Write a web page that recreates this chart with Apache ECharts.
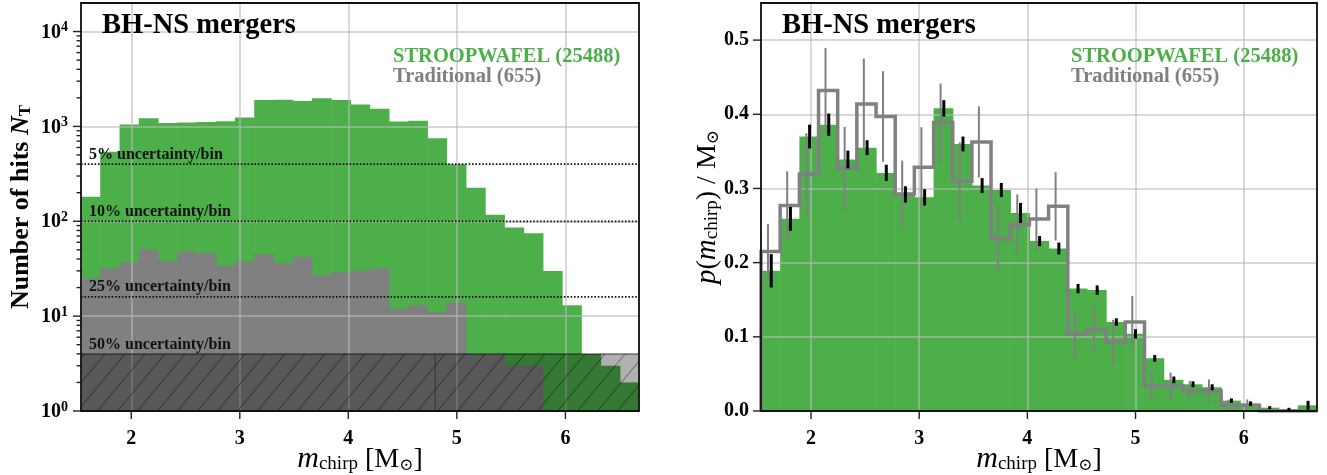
<!DOCTYPE html>
<html>
<head>
<meta charset="utf-8">
<script src="https://cdn.jsdelivr.net/npm/echarts@6/dist/echarts.min.js"></script>
<style>
html,body{margin:0;padding:0;background:#fff;}
#c{width:1327px;height:475px;}
</style>
</head>
<body>
<div id="c"></div>
<script>
// ---------------- data ----------------
const binEdges = [1.537,1.714,1.892,2.069,2.246,2.423,2.601,2.778,2.955,3.133,3.310,3.487,3.664,3.842,4.019,4.196,4.374,4.551,4.728,4.905,5.083,5.260,5.437,5.614,5.792,5.969,6.146,6.324,6.501,6.678];
const xTicks = [2,3,4,5,6];
const xTickLabels = ['2','3','4','5','6'];
const countTicks = [1,10,100,1000,10000];
const countTickExponents = ['0','1','2','3','4'];
const densityTicks = [0,0.1,0.2,0.3,0.4,0.5];
const densityTickLabels = ['0.0','0.1','0.2','0.3','0.4','0.5'];

// left panel: number of hits per bin
const stroopCounts = [181,540,1050,1220,1085,1100,1110,1135,1239,1895,1910,1850,1985,1895,1700,1535,1125,1145,750,399,225,117,86,75,30,13,4,3,2];
const tradCounts   = [25,32,37,50,38,48,46,34,38,45,36,42,27,29,30,32,12,13,11,14,4,4,3,3,1,1,0,0,0];

// right panel: normalised distributions
const stroopDensity    = [0.189,0.259,0.370,0.386,0.339,0.355,0.321,0.292,0.288,0.408,0.360,0.304,0.298,0.267,0.229,0.219,0.165,0.163,0.120,0.104,0.071,0.042,0.036,0.032,0.014,0.010,0.0045,0.0023,0.0077];
const stroopDensityErr = [0.0225,0.016,0.016,0.015,0.012,0.010,0.011,0.011,0.011,0.011,0.010,0.010,0.0095,0.0135,0.0068,0.008,0.0063,0.0063,0.005,0.0063,0.0045,0.0045,0.004,0.004,0.003,0.003,0.002,0.002,0.006];
const tradDensity      = [0.215,0.277,0.3195,0.432,0.327,0.414,0.397,0.2925,0.3285,0.389,0.3096,0.3627,0.2318,0.251,0.2588,0.2759,0.1035,0.110,0.093,0.120,0.0338,0.0338,0.027,0.027,0.0077,0.0077,0,0,0];
const tradDensityErr   = [0.037,0.046,0.055,0.0575,0.056,0.061,0.061,0.045,0.054,0.0525,0.0525,0.048,0.044,0.041,0.041,0.046,0.031,0.0286,0.03,0.035,0.018,0.018,0.0135,0.0155,0.0075,0.008,0,0,0];

const uncertaintyCounts = [400,100,16,4];
const uncertaintyLabels = ['5% uncertainty/bin','10% uncertainty/bin','25% uncertainty/bin','50% uncertainty/bin'];
const hatchSeamX = 4.8;

const titleText = 'BH-NS mergers';
const legendLabels = ['STROOPWAFEL (25488)','Traditional (655)'];

// ---------------- setup ----------------
const X_MIN = binEdges[0], X_MAX = binEdges[binEdges.length-1];
const COUNT_MIN = 1, COUNT_MAX = 20000;
const DENS_MIN = 0, DENS_MAX = 0.55;
const FONT = '"Liberation Serif", "DejaVu Serif", serif';
const GREEN = '#4daf4a', GREY = '#808080';
const GRID_C = 'rgba(185,185,185,0.75)';
const G1 = {left:81, top:3, width:558, height:408};
const G2 = {left:761, top:3, width:556, height:408};

const hatchCanvas = (function(){
  const w = 20, h = 24;
  const c = document.createElement('canvas'); c.width = w; c.height = h;
  const g = c.getContext('2d');
  g.fillStyle = 'rgba(0,0,0,0.31)'; g.fillRect(0,0,w,h);
  g.strokeStyle = 'rgba(0,0,0,0.45)'; g.lineWidth = 1;
  g.beginPath();
  for (const o of [-w,0,w]) { g.moveTo(o,h); g.lineTo(o+w,0); }
  g.stroke();
  return c;
})();

function idxOf(arr, v){
  for (let i=0;i<arr.length;i++){
    const t = arr[i];
    if (Math.abs(t - v) <= 1e-6 * Math.max(1, Math.abs(t))) return i;
  }
  return -1;
}

const axisNameRichX = {
  m:{fontFamily:FONT, fontStyle:'italic', fontSize:30, lineHeight:33, color:'#000', verticalAlign:'bottom'},
  c:{fontFamily:FONT, fontSize:19, lineHeight:14, color:'#000', verticalAlign:'bottom'},
  t:{fontFamily:FONT, fontSize:28, lineHeight:33, color:'#000', verticalAlign:'bottom'},
  o:{fontFamily:'"DejaVu Serif", serif', fontSize:17, lineHeight:14, color:'#000', verticalAlign:'bottom'}
};

function xAxisCfg(gi){
  return {
    type:'value', gridIndex:gi, min:X_MIN, max:X_MAX, z:3,
    axisLine:{show:false}, axisTick:{show:false},
    splitLine:{show:true, lineStyle:{color:GRID_C, width:1.5}},
    axisLabel:{
      margin:18, color:'#000', fontFamily:FONT, fontWeight:'bold', fontSize:20, lineHeight:20,
      formatter:(v)=>{ const i = idxOf(xTicks, v); return i<0 ? '' : xTickLabels[i]; }
    },
    name:'{m|m}{c|chirp}{t| [M}{o|⊙}{t|]}',
    nameLocation:'middle', nameGap:30, nameMoveOverlap:false,
    nameTextStyle:{fontFamily:FONT, color:'#000', rich:axisNameRichX}
  };
}

const yLeft = {
  type:'log', logBase:10, gridIndex:0, min:COUNT_MIN, max:COUNT_MAX, z:3,
  axisLine:{show:false}, axisTick:{show:false},
  splitLine:{show:true, lineStyle:{color:GRID_C, width:1.5}},
  axisLabel:{
    margin:13, color:'#000',
    formatter:(v)=>{ const i = idxOf(countTicks, v); return i<0 ? '' : '{b|10}{e|' + countTickExponents[i] + '}'; },
    rich:{
      b:{fontFamily:FONT, fontWeight:'bold', fontSize:20, lineHeight:22, color:'#000', verticalAlign:'bottom'},
      e:{fontFamily:FONT, fontWeight:'bold', fontSize:14, lineHeight:12, color:'#000', verticalAlign:'top'}
    }
  },
  name:'{t|Number of hits }{i|N}{s|T}',
  nameLocation:'middle', nameRotate:90, nameGap:47, nameMoveOverlap:false,
  nameTextStyle:{fontFamily:FONT, color:'#000', rich:{
    t:{fontFamily:FONT, fontWeight:'bold', fontSize:26, lineHeight:30, color:'#000', verticalAlign:'bottom'},
    i:{fontFamily:FONT, fontWeight:'bold', fontStyle:'italic', fontSize:26, lineHeight:30, color:'#000', verticalAlign:'bottom'},
    s:{fontFamily:FONT, fontWeight:'bold', fontSize:17, lineHeight:12, color:'#000', verticalAlign:'bottom'}
  }}
};

const yRight = {
  type:'value', gridIndex:1, min:DENS_MIN, max:DENS_MAX, z:3,
  axisLine:{show:false}, axisTick:{show:false},
  splitLine:{show:true, lineStyle:{color:GRID_C, width:1.5}},
  axisLabel:{
    margin:12, color:'#000', fontFamily:FONT, fontWeight:'bold', fontSize:20,
    formatter:(v)=>{ const i = idxOf(densityTicks, v); return i<0 ? '' : densityTickLabels[i]; }
  },
  name:'{p|p}{t|(}{p|m}{c|chirp}{t|) / M}{o|⊙}',
  nameLocation:'middle', nameRotate:90, nameGap:39, nameMoveOverlap:false,
  nameTextStyle:{fontFamily:FONT, color:'#000', rich:{
    p:{fontFamily:FONT, fontStyle:'italic', fontSize:29, lineHeight:33, color:'#000', verticalAlign:'bottom'},
    t:{fontFamily:FONT, fontSize:28, lineHeight:33, color:'#000', verticalAlign:'bottom'},
    c:{fontFamily:FONT, fontSize:19, lineHeight:14, color:'#000', verticalAlign:'bottom'},
    o:{fontFamily:'"DejaVu Serif", serif', fontSize:17, lineHeight:14, color:'#000', verticalAlign:'bottom'}
  }}
};

function histSeries(gi, counts, color, base, z){
  return {
    type:'custom', xAxisIndex:gi, yAxisIndex:gi, z:z, silent:true, clip:true,
    encode:{x:[0,1], y:2},
    data: counts.map((v,i)=>[binEdges[i], binEdges[i+1], v]),
    renderItem:(params, api)=>{
      const v = api.value(2);
      if (!(v > base)) return {type:'group', children:[]};
      const p0 = api.coord([api.value(0), v]);
      const p1 = api.coord([api.value(1), base]);
      return {type:'rect', shape:{x:p0[0], y:p0[1], width:p1[0]-p0[0]+0.6, height:p1[1]-p0[1]}, style:{fill:color}};
    }
  };
}

function errSeries(values, errs, offset, color, width, z){
  const d = [];
  values.forEach((v,i)=>{ if (errs[i] > 0) d.push([(binEdges[i]+binEdges[i+1])/2 + offset, v-errs[i], v+errs[i]]); });
  return {
    type:'custom', xAxisIndex:1, yAxisIndex:1, z:z, silent:true, clip:true,
    encode:{x:0, y:[1,2]}, data:d,
    renderItem:(params, api)=>{
      const a = api.coord([api.value(0), api.value(1)]);
      const b = api.coord([api.value(0), api.value(2)]);
      return {type:'line', shape:{x1:a[0], y1:a[1], x2:b[0], y2:b[1]}, style:{stroke:color, lineWidth:width}};
    }
  };
}

function tickSeries(gi, yMin, yMajor, yMinor){
  const d = [];
  xTicks.forEach(x=>d.push([x, yMin, 0, 8]));
  yMajor.forEach(v=>d.push([X_MIN, v, 1, 8]));
  yMinor.forEach(v=>d.push([X_MIN, v, 1, 4.5]));
  return {
    type:'custom', xAxisIndex:gi, yAxisIndex:gi, z:8, silent:true, clip:false,
    encode:{x:0, y:1}, data:d,
    renderItem:(params, api)=>{
      const p = api.coord([api.value(0), api.value(1)]);
      const len = api.value(3);
      const sh = api.value(2) === 0
        ? {x1:p[0], y1:p[1], x2:p[0], y2:p[1]+len}
        : {x1:p[0]-len, y1:p[1], x2:p[0], y2:p[1]};
      return {type:'line', shape:sh, style:{stroke:'#222', lineWidth:1.4}};
    }
  };
}

const minorCountTicks = [];
[1,10,100,1000,10000].forEach(k=>{ for (let m=2;m<=9;m++){ const v=k*m; if (v < COUNT_MAX) minorCountTicks.push(v); } });

// hatch region (below 50% uncertainty level)
const hatchLevel = uncertaintyCounts[uncertaintyCounts.length-1];
const hatchSeries = {
  type:'custom', xAxisIndex:0, yAxisIndex:0, z:5, silent:true, clip:true,
  encode:{x:[0,1], y:[2,3]},
  data:[[X_MIN, X_MAX, COUNT_MIN, hatchLevel, hatchSeamX]],
  renderItem:(params, api)=>{
    const p0 = api.coord([api.value(0), api.value(3)]);
    const p1 = api.coord([api.value(1), api.value(2)]);
    const ps = api.coord([api.value(4), api.value(3)]);
    return {type:'group', children:[
      {type:'rect', shape:{x:p0[0], y:p0[1], width:p1[0]-p0[0], height:p1[1]-p0[1]}, style:{fill:{image:hatchCanvas, repeat:'repeat'}}},
      {type:'line', shape:{x1:ps[0], y1:p0[1], x2:ps[0], y2:p1[1]}, style:{stroke:'rgba(0,0,0,0.4)', lineWidth:1}},
      {type:'line', shape:{x1:p0[0], y1:p0[1], x2:p1[0], y2:p0[1]}, style:{stroke:'rgba(0,0,0,0.5)', lineWidth:1.5}}
    ]};
  }
};

const uncertaintySeries = {
  type:'custom', xAxisIndex:0, yAxisIndex:0, z:6, silent:true, clip:true,
  encode:{x:0, y:1},
  data: uncertaintyCounts.map((n,i)=>[X_MIN, n, i]),
  renderItem:(params, api)=>{
    const i = api.value(2);
    const n = api.value(1);
    const p0 = api.coord([X_MIN, n]);
    const p1 = api.coord([X_MAX, n]);
    const ch = [];
    if (n > hatchLevel) {
      ch.push({type:'line', shape:{x1:p0[0], y1:p0[1], x2:p1[0], y2:p1[1]}, style:{stroke:'#111', lineWidth:1.8, lineDash:[1.6,1.8]}});
    }
    ch.push({type:'text', x:p0[0]+8, y:p0[1]-9.5, style:{text:uncertaintyLabels[i], font:'bold 16px ' + FONT, fill:'#111', align:'left', verticalAlign:'middle'}});
    return {type:'group', children:ch};
  }
};

const tradStep = [[binEdges[0], 0]];
tradDensity.forEach((v,i)=>{ tradStep.push([binEdges[i], v]); tradStep.push([binEdges[i+1], v]); });
tradStep.push([binEdges[binEdges.length-1], 0]);

function panelTexts(g){
  const L = g.left, R = g.left + g.width;
  return [
    {type:'text', x:L+21, y:26, z:100, style:{text:titleText, font:'bold 28.5px ' + FONT, fill:'#000', align:'left', verticalAlign:'middle', textAlign:'left', textVerticalAlign:'middle'}},
    {type:'text', x:R-246, y:57, z:100, style:{text:legendLabels[0], font:'bold 20.5px ' + FONT, fill:GREEN, align:'left', verticalAlign:'middle', textAlign:'left', textVerticalAlign:'middle'}},
    {type:'text', x:R-246, y:77, z:100, style:{text:legendLabels[1], font:'bold 20.5px ' + FONT, fill:GREY, align:'left', verticalAlign:'middle', textAlign:'left', textVerticalAlign:'middle'}},
    {type:'rect', z:101, shape:{x:g.left, y:g.top, width:g.width, height:g.height}, style:{fill:'none', stroke:'#111', lineWidth:1.8}}
  ];
}

const option = {
  animation:false,
  backgroundColor:'#fff',
  grid:[
    Object.assign({containLabel:false, outerBoundsMode:'none'}, G1),
    Object.assign({containLabel:false, outerBoundsMode:'none'}, G2)
  ],
  xAxis:[xAxisCfg(0), xAxisCfg(1)],
  yAxis:[yLeft, yRight],
  series:[
    histSeries(0, stroopCounts, GREEN, COUNT_MIN, 1),
    histSeries(0, tradCounts, GREY, COUNT_MIN, 2),
    hatchSeries,
    uncertaintySeries,
    tickSeries(0, COUNT_MIN, countTicks, minorCountTicks),
    histSeries(1, stroopDensity, GREEN, DENS_MIN, 1),
    {type:'line', xAxisIndex:1, yAxisIndex:1, z:4, silent:true, clip:true, symbol:'none', showSymbol:false,
     data:tradStep, lineStyle:{color:GREY, width:3.5, join:'miter'}},
    errSeries(tradDensity, tradDensityErr, -0.024, GREY, 2, 5),
    errSeries(stroopDensity, stroopDensityErr, 0.006, '#000', 3, 6),
    tickSeries(1, DENS_MIN, densityTicks, [])
  ],
  graphic:[].concat(panelTexts(G1), panelTexts(G2))
};

const chart = echarts.init(document.getElementById('c'), null, {renderer:'canvas'});
chart.setOption(option);
</script>
</body>
</html>
